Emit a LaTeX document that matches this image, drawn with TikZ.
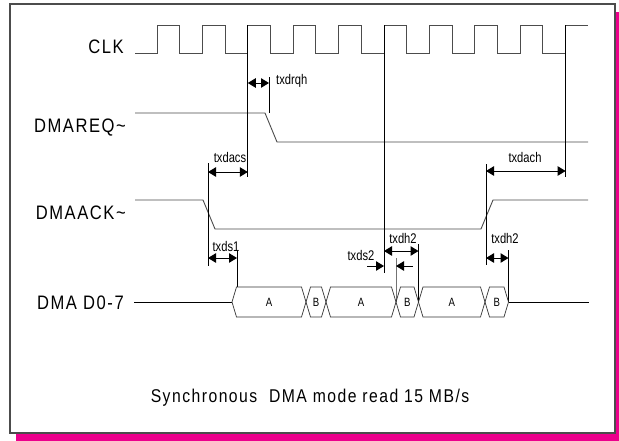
\documentclass[tikz,border=0pt]{standalone}
\usepackage{fontspec}
\setmainfont{Liberation Sans}[FakeStretch=0.85]
\newfontfamily\widefont{Liberation Sans}[FakeStretch=0.85,LetterSpace=8]
\newfontfamily\narrowfont{Liberation Sans}[FakeStretch=0.8]
\usetikzlibrary{arrows.meta}
\begin{document}
\begin{tikzpicture}[x=1pt,y=-1pt,
  sig/.style={line width=0.9pt, draw=black!70},
  tline/.style={line width=0.8pt, draw=black},
  gline/.style={line width=0.8pt, draw=black!55},
  dimarrow/.style={line width=1pt, {Triangle[length=8pt,width=9.5pt]}-{Triangle[length=8pt,width=9.5pt]}},
  onearrow/.style={line width=1pt, -{Triangle[length=8pt,width=9.5pt]}},
  siglabel/.style={font=\widefont\fontsize{19.5}{19.5}\selectfont, anchor=east, inner sep=0pt},
  tlabel/.style={font=\narrowfont\fontsize{14}{14}\selectfont, inner sep=0pt},
  datlabel/.style={font=\narrowfont\fontsize{12}{12}\selectfont, inner sep=0pt},
  hexa/.style={line width=0.7pt, draw=black!80}]
\useasboundingbox (0,0) rectangle (619,440);
% frame with magenta shadow
\fill[magenta] (16,12) rectangle (625,445);
\draw[fill=white, draw=black!70, line width=1.3pt] (10,4) rectangle (615,433);

% signal labels
\node[siglabel] (lclk) at (124,47) {CLK};
\node[siglabel] (lreq) at (126,128) {DMAREQ\textasciitilde};
\node[siglabel] (lack) at (126,213) {DMAACK\textasciitilde};
\node[siglabel] (ldat) at (124,303) {DMA D0-7};

% clock
\draw[sig] (135,53) -| (157,25) -| (179.7,53) -| (202.4,25) -| (225.1,53) -| (247.8,25)
  -| (270.5,53) -| (293.2,25) -| (315.9,53) -| (338.6,25) -| (361.3,53) -| (384,25)
  -| (406.7,53) -| (429.4,25) -| (452.1,53) -| (474.8,25) -| (497.5,53) -| (520.2,25)
  -| (542.9,53) -| (565.6,25) -- (588,25);

% DMAREQ
\draw[sig] (135,113) -- (265,113) -- (277,142) -- (588,142);
% DMAACK
\draw[sig] (135,200) -- (203,200) -- (215,229) -- (481,229) -- (493,200) -- (588,200);

% timing reference lines
\coordinate (e1) at (247.8,25);
\coordinate (e2) at (384,25);
\coordinate (e3) at (565.6,25);
\draw[tline] (e1) -- (247.8,177);
\draw[tline] (e2) -- (384,273);
\draw[tline] (e3) -- (565.6,177);
\draw[tline] (269,77) -- (269,113);
\draw[tline] (208,163) -- (208,266);
\draw[tline] (486,164) -- (486,265);
\draw[tline] (237,250) -- (237,287);
\draw[tline] (418.5,244) -- (418.5,302);
\draw[tline] (508.5,250) -- (508.5,302);
\draw[gline] (396,258) -- (396,302);

% dimension arrows
\draw[dimarrow] (247.8,83) -- (269,83);
\node[tlabel, anchor=west] (ttxdrqh) at (276,81) {txdrqh};
\draw[dimarrow] (208,172) -- (247.8,172);
\node[tlabel] (ttxdacs) at (230,157) {txdacs};
\draw[dimarrow] (486,171) -- (565.6,171);
\node[tlabel] (ttxdach) at (525,157) {txdach};
\draw[dimarrow] (208,258) -- (237,258);
\node[tlabel] (ttxds1) at (226,246) {txds1};
\draw[dimarrow] (384,251) -- (418.5,251);
\node[tlabel] (ttxdh2a) at (403,238) {txdh2};
\draw[onearrow] (367,266) -- (384,266);
\draw[onearrow] (413,266) -- (396,266);
\node[tlabel] (ttxds2) at (361,255) {txds2};
\draw[dimarrow] (486,258) -- (508.5,258);
\node[tlabel] (ttxdh2b) at (505,238) {txdh2};

% data bus
\draw[sig, draw=black] (134,302) -- (232,302);
\draw[sig, draw=black] (508.5,302) -- (589,302);
\foreach \a/\b/\t [count=\i] in {232/306/A, 306/326/B, 326/396/A, 396/418.5/B, 418.5/485/A, 485/508.5/B}{
  \draw[hexa] (\a,302) -- (\a+4.5,287) -- (\b-4.5,287) -- (\b,302) -- (\b-4.5,317) -- (\a+4.5,317) -- cycle;
  \node[datlabel] (d\i) at ({(\a+\b)/2},302) {\t};
}

% caption
\node[font=\widefont\fontsize{18.5}{18.5}\selectfont, inner sep=0pt] (caption) at (310,398) {Synchronous \ DMA mode read 15 MB/s};
\end{tikzpicture}
\end{document}
